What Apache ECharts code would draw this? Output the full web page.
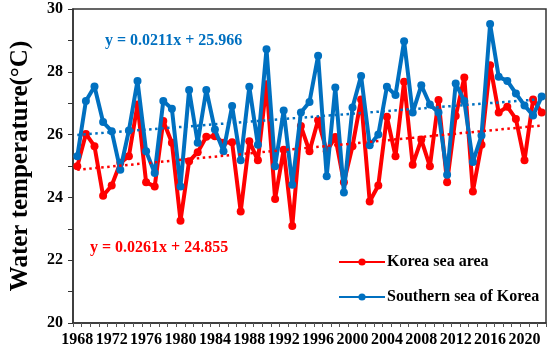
<!DOCTYPE html>
<html>
<head>
<meta charset="utf-8">
<script src="https://cdn.jsdelivr.net/npm/echarts@6/dist/echarts.min.js"></script>
<style>html,body{margin:0;padding:0;background:#fff;}#c{width:550px;height:356px;}</style>
</head>
<body>
<div id="c"></div>
<script>
const years = ['1968','1969','1970','1971','1972','1973','1974','1975','1976','1977',
'1978','1979','1980','1981','1982','1983','1984','1985','1986','1987',
'1988','1989','1990','1991','1992','1993','1994','1995','1996','1997',
'1998','1999','2000','2001','2002','2003','2004','2005','2006','2007',
'2008','2009','2010','2011','2012','2013','2014','2015','2016','2017',
'2018','2019','2020','2021','2022'];
const koreaSea = [24.99, 26.02, 25.63, 24.05, 24.38, 25.10, 25.31, 26.96, 24.48, 24.35,
26.43, 25.74, 23.26, 25.15, 25.44, 25.93, 25.95, 25.74, 25.76, 23.55,
25.79, 25.18, 27.60, 23.95, 25.52, 23.09, 26.27, 25.47, 26.46, 25.47,
25.92, 24.48, 25.63, 27.12, 23.87, 24.38, 26.57, 25.31, 27.68, 25.04,
25.84, 24.99, 27.10, 24.48, 26.59, 27.82, 24.19, 25.68, 28.21, 26.70,
26.89, 26.50, 25.18, 27.12, 26.70];
const southernSea = [25.31, 27.07, 27.53, 26.40, 26.11, 24.88, 26.13, 27.71, 25.47, 24.78,
27.07, 26.82, 24.35, 27.42, 25.74, 27.42, 26.16, 25.47, 26.91, 25.18,
27.52, 25.68, 28.72, 24.99, 26.77, 24.40, 26.70, 27.04, 28.51, 24.67,
27.50, 24.16, 26.86, 27.87, 25.66, 26.00, 27.52, 27.26, 28.97, 26.70,
27.57, 26.96, 26.70, 24.72, 27.63, 27.07, 25.13, 25.97, 29.52, 27.84,
27.71, 27.31, 26.93, 26.61, 27.21];
// trend line end values (first and last year), from the fitted equations
const koreaTrendEnds = [24.88, 26.29];
const southernTrendEnds = [25.99, 27.13];
const koreaEq = 'y = 0.0261x + 24.855';
const southernEq = 'y = 0.0211x + 25.966';
const yTicks = [20, 22, 24, 26, 28, 30];

const RED = '#ff0000', BLUE = '#0070c0';
const FONT = '"Liberation Serif", "Times New Roman", serif';
const chart = echarts.init(document.getElementById('c'), null, {renderer: 'canvas'});
chart.setOption({
  animation: false,
  backgroundColor: '#fff',
  grid: {left: 62, right: 4, top: 9, bottom: 33, show: true, borderColor: '#333', borderWidth: 1.5, containLabel: false},
  xAxis: {
    type: 'category', data: years, boundaryGap: true,
    axisLine: {lineStyle: {color: '#333', width: 1.5}},
    axisTick: {show: true, interval: 0, length: 4, lineStyle: {color: '#555'}},
    axisLabel: {interval: 3, margin: 9, color: '#000', fontFamily: FONT, fontWeight: 'bold', fontSize: 16, hideOverlap: false},
    splitLine: {show: false}
  },
  yAxis: {
    type: 'value', min: yTicks[0], max: yTicks[yTicks.length - 1], interval: 2,
    name: 'Water temperature(°C)', nameLocation: 'middle', nameGap: 40, nameRotate: 90,
    nameTextStyle: {color: '#000', fontFamily: FONT, fontWeight: 'bold', fontSize: 25},
    axisLine: {show: true, lineStyle: {color: '#333', width: 1.5}},
    axisTick: {show: true, length: 5, lineStyle: {color: '#333'}},
    minorTick: {show: true, splitNumber: 2, length: 5, lineStyle: {color: '#333'}},
    axisLabel: {margin: 10, color: '#000', fontFamily: FONT, fontWeight: 'bold', fontSize: 16,
      formatter: v => yTicks.indexOf(v) >= 0 ? String(v) : ''},
    splitLine: {show: false}
  },
  legend: {
    data: ['Korea sea area', 'Southern sea of Korea'],
    orient: 'vertical', left: 333, top: 249, itemWidth: 46, itemHeight: 9, itemGap: 19,
    textStyle: {color: '#000', fontFamily: FONT, fontWeight: 'bold', fontSize: 16, padding: [0, 0, 0, -3]}
  },
  graphic: [
    {type: 'text', left: 105, top: 33, style: {text: southernEq, fill: BLUE, font: 'bold 16px ' + FONT}},
    {type: 'text', left: 90, top: 240, style: {text: koreaEq, fill: RED, font: 'bold 16px ' + FONT}}
  ],
  series: [
    {name: 'Korea sea area', type: 'line', data: koreaSea, color: RED, showSymbol: true, showAllSymbol: true,
      symbol: 'circle', symbolSize: 8, lineStyle: {width: 4, color: RED}, itemStyle: {color: RED}, z: 3},
    {name: 'Southern sea of Korea', type: 'line', data: southernSea, color: BLUE, showSymbol: true, showAllSymbol: true,
      symbol: 'circle', symbolSize: 8, lineStyle: {width: 4, color: BLUE}, itemStyle: {color: BLUE}, z: 4},
    {name: 'Korea trend', type: 'line', symbol: 'none', silent: true, z: 5,
      data: [[years[0], koreaTrendEnds[0]], [years[years.length - 1], koreaTrendEnds[1]]],
      lineStyle: {width: 2.5, type: [2.5, 3.5], color: RED}},
    {name: 'Southern trend', type: 'line', symbol: 'none', silent: true, z: 5,
      data: [[years[0], southernTrendEnds[0]], [years[years.length - 1], southernTrendEnds[1]]],
      lineStyle: {width: 2.5, type: [2.5, 3.5], color: BLUE}}
  ]
});
</script>
</body>
</html>
